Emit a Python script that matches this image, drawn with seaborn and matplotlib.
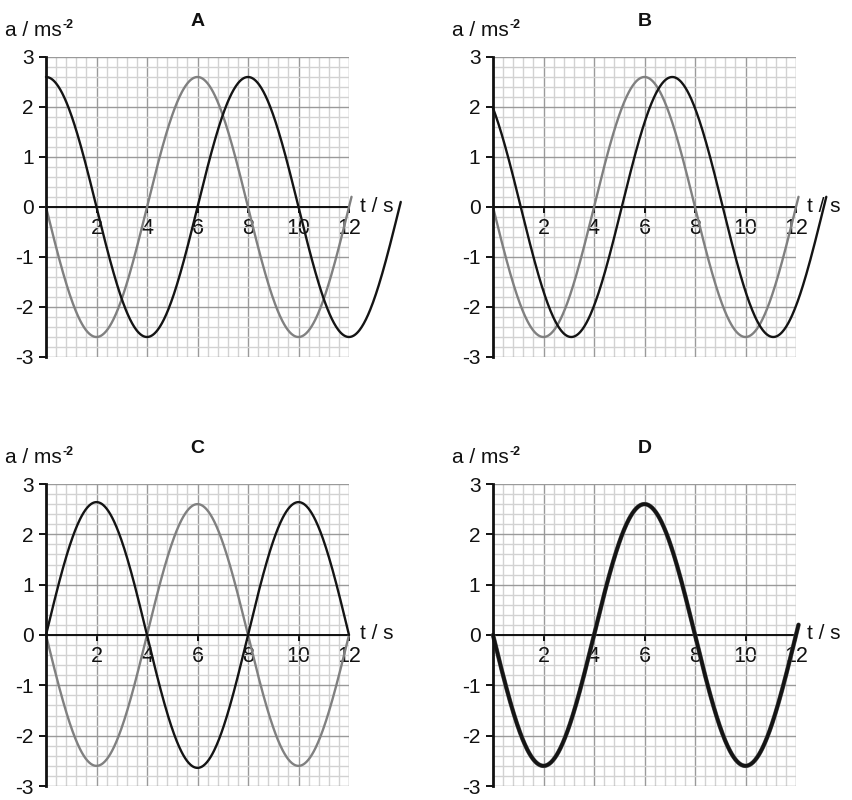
"""
Four a-t graphs (A-D) on graph paper, drawn with seaborn line plots.
"""
import numpy as np
import pandas as pd
import matplotlib
matplotlib.use("Agg")
import matplotlib.pyplot as plt
import seaborn as sns
from matplotlib.ticker import MultipleLocator

sns.set_theme(style="white")
plt.rcParams['font.family'] = ['Liberation Sans', 'DejaVu Sans']
plt.rcParams['axes.unicode_minus'] = False

# Panels and axis ticks
panel_names = ['A', 'B', 'C', 'D']
x_ticks = [2, 4, 6, 8, 10, 12]
x_tick_labels = ['2', '4', '6', '8', '10', '12']
y_ticks = [-3, -2, -1, 0, 1, 2, 3]
y_tick_labels = ['-3', '-2', '-1', '0', '1', '2', '3']

# Sinusoidal curves (amplitude / period / time of a peak)
curve_panel = ['A', 'A', 'B', 'B', 'C', 'C', 'D']
curve_shade = ['grey', 'black', 'grey', 'black', 'grey', 'black', 'bold']
curve_amp = [2.6, 2.6, 2.6, 2.6, 2.6, 2.64, 2.6]
curve_period = [8, 8, 8, 8, 8, 8, 8]
curve_peak_t = [6, 0, 6, 7.1, 6, 2, 6]
curve_t_end = [12.1, 14.05, 12.1, 13.2, 12.0, 12.0, 12.1]

# Axes boxes in pixels (left, top, right, bottom) of an 852x800 figure
W, H = 852, 800
boxes = {'A': (46, 57, 349, 357), 'B': (493, 57, 796, 357),
         'C': (46, 484, 349, 786), 'D': (493, 484, 796, 786)}
title_base = {'A': 26, 'B': 26, 'C': 453, 'D': 453}
label_pos = {'A': (5, 36), 'B': (452, 36), 'C': (5, 463), 'D': (452, 463)}

styles = {'grey': dict(color='#808080', lw=1.7),
          'black': dict(color='#141414', lw=1.7),
          'bold': dict(color='#141414', lw=2.6)}

rows = []
for i in range(len(curve_panel)):
    t = np.linspace(0, curve_t_end[i], 500)
    a = curve_amp[i] * np.cos(2 * np.pi * (t - curve_peak_t[i]) / curve_period[i])
    rows.append(pd.DataFrame({'t': t, 'a': a, 'curve': i}))
curves = pd.concat(rows, ignore_index=True)

fig = plt.figure(figsize=(W / 100, H / 100), dpi=100)
renderer = fig.canvas.get_renderer()
fs = 15

for name in panel_names:
    l, tp, r, b = boxes[name]
    ax = fig.add_axes([l / W, 1 - b / H, (r - l) / W, (b - tp) / H])
    ax.set_xlim(0, 12)
    ax.set_ylim(-3, 3)

    # graph paper
    ax.xaxis.set_minor_locator(MultipleLocator(0.4))
    ax.yaxis.set_minor_locator(MultipleLocator(0.2))
    ax.grid(which='minor', color='#d2d2d2', lw=1.0)
    ax.grid(which='major', color='#9a9a9a', lw=1.0)
    ax.set_axisbelow(True)

    for i in range(len(curve_panel)):
        if curve_panel[i] != name:
            continue
        sub = curves[curves['curve'] == i]
        if curve_shade[i] == 'bold':
            sns.lineplot(data=sub, x='t', y='a', ax=ax, sort=False, estimator=None,
                         color='#6a6a6a', lw=3.2, clip_on=False)
        sns.lineplot(data=sub, x='t', y='a', ax=ax, sort=False, estimator=None,
                     clip_on=False, **styles[curve_shade[i]])

    ax.set_xlabel('')
    ax.set_ylabel('')
    ax.set_xticks(x_ticks)
    ax.set_xticklabels(x_tick_labels)
    ax.set_yticks(y_ticks)
    ax.set_yticklabels(y_tick_labels)

    for side in ['top', 'right']:
        ax.spines[side].set_visible(False)
    ax.spines['left'].set_color('#111111')
    ax.spines['left'].set_linewidth(2.0)
    ax.spines['bottom'].set_position(('data', 0))
    ax.spines['bottom'].set_color('#111111')
    ax.spines['bottom'].set_linewidth(1.4)
    ax.spines['bottom'].set_zorder(1.5)

    ax.tick_params(axis='y', which='major', direction='out', length=5, width=1.4,
                   color='#111111', pad=4, labelsize=fs, left=True)
    ax.tick_params(axis='x', which='major', direction='out', length=4, width=1.4,
                   color='#111111', pad=4, labelsize=fs + 0.5, bottom=True)
    ax.tick_params(which='minor', length=0)
    for lab in ax.get_xticklabels() + ax.get_yticklabels():
        lab.set_color('#111111')

    ax.text(12.45, 0.02, 't / s', fontsize=fs, ha='left', va='center', color='#111111')

    cx = (l + r) / 2
    fig.text(cx / W, 1 - title_base[name] / H, name, fontsize=14, fontweight='bold',
             ha='center', va='baseline', color='#111111')
    lx, ly = label_pos[name]
    unit = fig.text(lx / W, 1 - ly / H, 'a / ms', fontsize=fs, ha='left',
                    va='baseline', color='#111111')
    x_end = unit.get_window_extent(renderer).x1
    fig.text((x_end + 1) / W, 1 - (ly - 8) / H, '-2', fontsize=9, fontweight='bold',
             ha='left', va='baseline', color='#111111')

fig.savefig('out.png', dpi=100)
